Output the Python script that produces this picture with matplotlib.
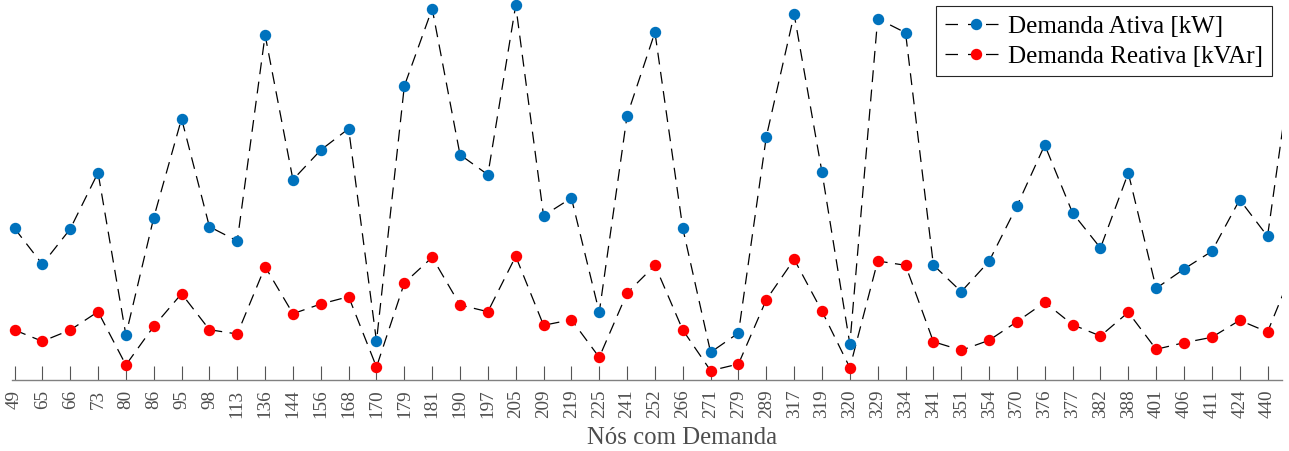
import numpy as np
import matplotlib.pyplot as plt
from matplotlib.lines import Line2D

plt.rcParams['font.family'] = ['Liberation Serif', 'DejaVu Serif']

# nós com demanda (rótulos do eixo x)
nos = ['49', '65', '66', '73', '80', '86', '95', '98', '113', '136', '144', '156',
       '168', '170', '179', '181', '190', '197', '205', '209', '219', '225', '241',
       '252', '266', '271', '279', '289', '317', '319', '320', '329', '334', '341',
       '351', '354', '370', '376', '377', '382', '388', '401', '406', '411', '424',
       '440']

# demanda ativa [kW] e reativa [kVAr] por nó (último valor já fora da janela)
ativa = [15.12, 11.52, 15.05, 20.68, 4.45, 16.18, 26.08, 15.28, 13.85, 34.45,
         19.98, 22.95, 25.08, 3.82, 29.35, 37.08, 22.48, 20.48, 37.42, 16.38,
         18.15, 6.72, 26.38, 34.72, 15.12, 2.72, 4.65, 24.28, 36.52, 20.72,
         3.55, 36.08, 34.68, 11.45, 8.78, 11.82, 17.35, 23.45, 16.65, 13.15,
         20.65, 9.12, 11.05, 12.82, 17.98, 14.32, 34.05]
reativa = [4.95, 3.82, 4.95, 6.78, 1.45, 5.32, 8.58, 4.98, 4.55, 11.28,
           6.58, 7.55, 8.28, 1.25, 9.65, 12.22, 7.45, 6.78, 12.32, 5.42,
           5.98, 2.22, 8.65, 11.42, 4.95, 0.88, 1.55, 7.98, 12.02, 6.82,
           1.18, 11.85, 11.42, 3.78, 2.92, 3.92, 5.78, 7.72, 5.48, 4.35,
           6.72, 3.02, 3.68, 4.22, 5.92, 4.75, 11.55]

azul = '#0072BD'
vermelho = '#FF0000'
cinza = '#4d4d4d'
tracos = (0, (9.5, 6.0))
tracos_leg = (0, (10.0, 8.0, 6.4, 8.0))

fig = plt.figure(figsize=(12.89, 4.52), dpi=100)
ax = fig.add_axes([12 / 1289, 71.5 / 452, 1270 / 1289, 380.5 / 452])

x = np.arange(len(ativa))
for serie, cor in [(ativa, azul), (reativa, vermelho)]:
    ax.plot(x, serie, color='k', lw=0.9, linestyle=tracos)
    ax.plot(x, serie, 'o', color=cor, ms=7.2, mec=cor, clip_on=False, zorder=3)

ax.set_xlim(-0.09, 45.52)
ax.set_ylim(0, 38.05)

ax.set_xticks(np.arange(len(nos)))
ax.set_xticklabels(nos, rotation=90, va='top', ha='center')
ax.set_yticks([])
ax.tick_params(axis='x', direction='in', length=10, width=0.8, color='#555555',
               labelcolor=cinza, labelsize=13.8, pad=6.5)
for lado in ['left', 'top', 'right']:
    ax.spines[lado].set_visible(False)
ax.spines['bottom'].set_color('#808080')
ax.spines['bottom'].set_linewidth(1.0)

ax.set_xlabel('Nós com Demanda', fontsize=17.8, color=cinza)
ax.xaxis.set_label_coords(0.5276, -0.122)

handles = [
    Line2D([], [], color='k', lw=0.9, linestyle=tracos_leg, marker='o', ms=7.2,
           mfc=azul, mec=azul),
    Line2D([], [], color='k', lw=0.9, linestyle=tracos_leg, marker='o', ms=7.2,
           mfc=vermelho, mec=vermelho),
]
leg = ax.legend(handles, ['Demanda Ativa [kW]', 'Demanda Reativa [kVAr]'],
                loc='upper right', bbox_to_anchor=(1272 / 1289, 1 - 7 / 452),
                bbox_transform=fig.transFigure, borderaxespad=0, fontsize=18,
                fancybox=False, framealpha=1, edgecolor='#262626',
                handlelength=2.5, handletextpad=0.05, borderpad=0.35,
                labelspacing=0.3)
leg.get_frame().set_linewidth(0.8)

fig.savefig('out.png', dpi=100)
